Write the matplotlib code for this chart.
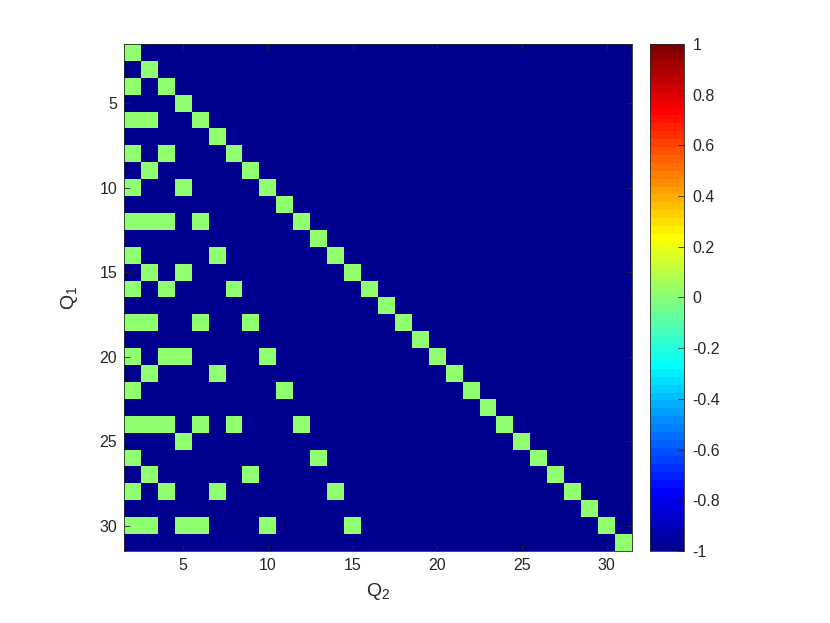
import numpy as np
import matplotlib
matplotlib.use("Agg")
import matplotlib.pyplot as plt
from matplotlib.colors import ListedColormap

# Q1 / Q2 run from 2 to 31
q_values = list(range(2, 32))

# for each Q1 row: the Q2 columns that are green (value 0), everything else is -1
green_cells = {
    2: [2], 3: [3], 4: [2, 4], 5: [5], 6: [2, 3, 6], 7: [7],
    8: [2, 4, 8], 9: [3, 9], 10: [2, 5, 10], 11: [11],
    12: [2, 3, 4, 6, 12], 13: [13], 14: [2, 7, 14], 15: [3, 5, 15],
    16: [2, 4, 8, 16], 17: [17], 18: [2, 3, 6, 9, 18], 19: [19],
    20: [2, 4, 5, 10, 20], 21: [3, 7, 21], 22: [2, 11, 22], 23: [23],
    24: [2, 3, 4, 6, 8, 12, 24], 25: [5, 25], 26: [2, 13, 26],
    27: [3, 9, 27], 28: [2, 4, 7, 14, 28], 29: [29],
    30: [2, 3, 5, 6, 10, 15, 30], 31: [31],
}
cbar_ticks = [-1, -0.8, -0.6, -0.4, -0.2, 0, 0.2, 0.4, 0.6, 0.8, 1]
cbar_labels = ["-1", "-0.8", "-0.6", "-0.4", "-0.2", "0", "0.2", "0.4", "0.6", "0.8", "1"]

n = len(q_values)
M = np.full((n, n), -1.0)
for q1, cols in green_cells.items():
    for q2 in cols:
        M[q_values.index(q1), q_values.index(q2)] = 0.0


def matlab_jet(m=64):
    # same construction as MATLAB's jet(m)
    k = int(np.ceil(m / 4))
    u = np.concatenate([np.arange(1, k + 1) / k, np.ones(k - 1), np.arange(k, 0, -1) / k])
    g = int(np.ceil(k / 2)) - (1 if m % 4 == 1 else 0) + np.arange(1, len(u) + 1)
    r = g + k
    b = g - k
    cols = np.zeros((m, 3))
    for ch, idx in enumerate([r, g, b]):
        ok = (idx >= 1) & (idx <= m)
        cols[idx[ok] - 1, ch] = u[ok]
    return ListedColormap(cols)


cmap = matlab_jet(64)
txt = "#262626"
plt.rcParams["font.family"] = ["Liberation Sans", "DejaVu Sans"]
plt.rcParams["mathtext.fontset"] = "custom"
plt.rcParams["mathtext.rm"] = "Liberation Sans"
plt.rcParams["mathtext.it"] = "Liberation Sans"
plt.rcParams["mathtext.default"] = "regular"

fig = plt.figure(figsize=(8.3, 6.23), dpi=100)
ax = fig.add_axes([0.1494, 0.1156, 0.6120, 0.8138])
cax = fig.add_axes([0.7831, 0.1156, 0.0410, 0.8138])

im = ax.imshow(M, cmap=cmap, vmin=-1, vmax=1, aspect="auto", interpolation="nearest",
               extent=[q_values[0] - 0.5, q_values[-1] + 0.5, q_values[-1] + 0.5, q_values[0] - 0.5])

ax.set_xticks([5, 10, 15, 20, 25, 30])
ax.set_yticks([5, 10, 15, 20, 25, 30])
ax.tick_params(direction="in", length=4, width=0.6, top=True, right=True,
               labelsize=11.5, colors=txt, labelcolor=txt, pad=5)
for s in ax.spines.values():
    s.set_color(txt)
    s.set_linewidth(0.6)
ax.set_xlabel("Q$_2$", fontsize=14, color=txt, labelpad=6)
ax.set_ylabel("Q$_1$", fontsize=14, color=txt, labelpad=14)

cb = fig.colorbar(im, cax=cax)
cb.set_ticks(cbar_ticks)
cb.set_ticklabels(cbar_labels)
cax.tick_params(direction="in", length=4, width=0.6, labelsize=11.5, colors=txt, labelcolor=txt, pad=6)
cb.outline.set_edgecolor(txt)
cb.outline.set_linewidth(0.6)

fig.savefig("out.png", dpi=100)
